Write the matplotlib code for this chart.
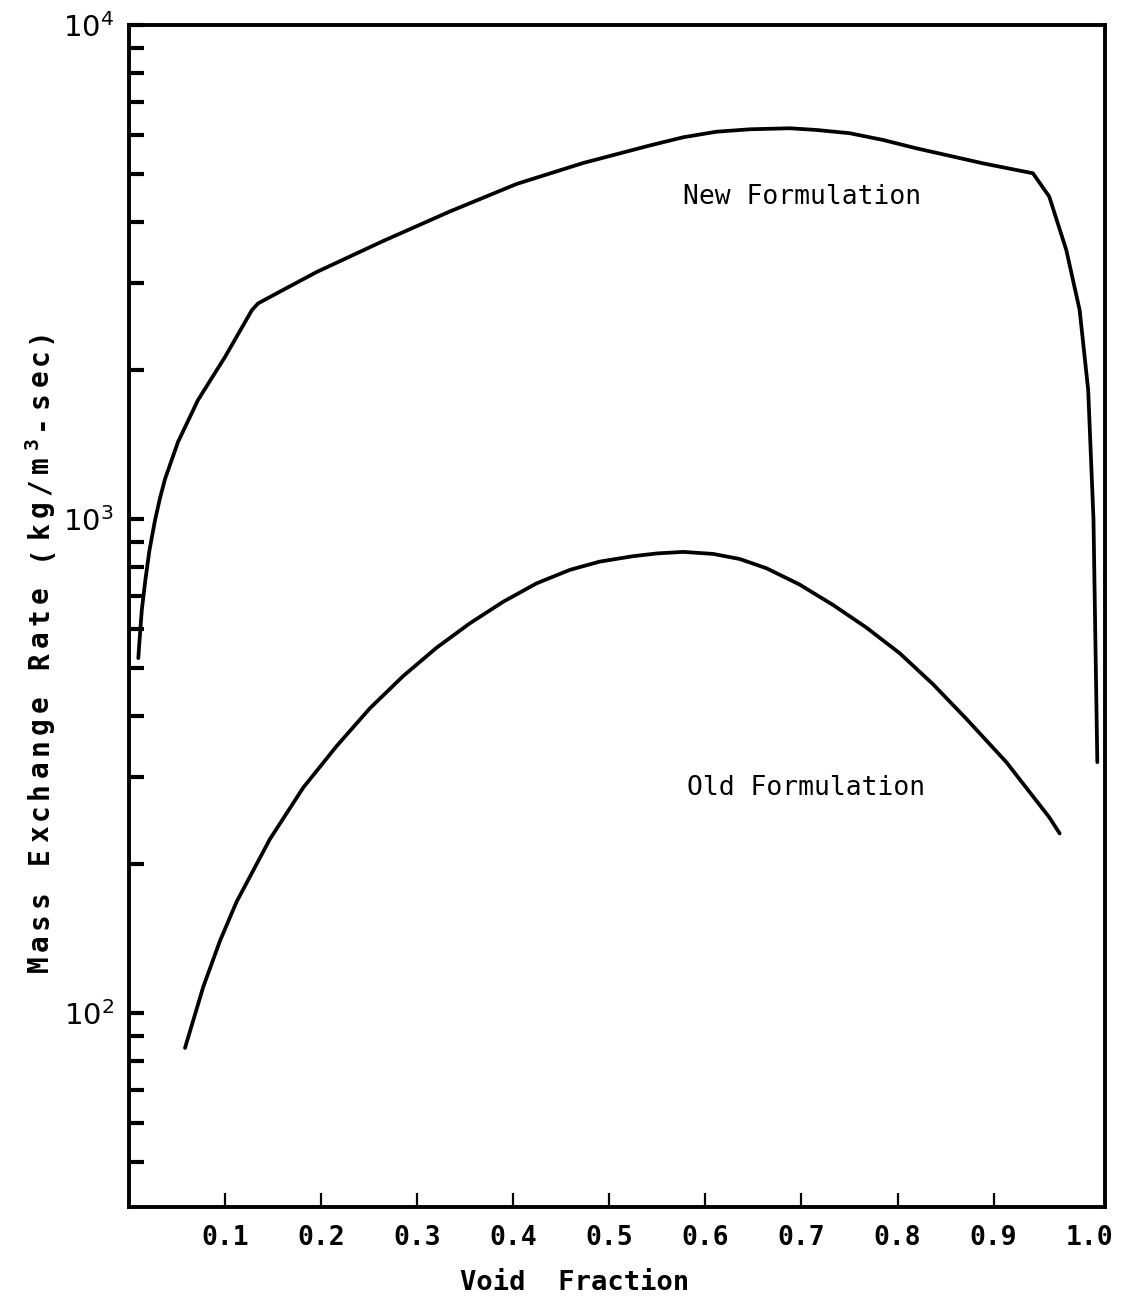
import matplotlib
matplotlib.use("Agg")
import matplotlib.pyplot as plt
from matplotlib.ticker import LogLocator, NullFormatter

# mass exchange rate vs void fraction, two closure formulations
void_new = [0.0097, 0.0110, 0.0133, 0.0170, 0.0213, 0.0271, 0.0323, 0.0375, 0.0510,
            0.0718, 0.0999, 0.1280, 0.1345, 0.1623, 0.1953, 0.2646, 0.334, 0.4034,
            0.4727, 0.5421, 0.5768, 0.6115, 0.6462, 0.6878, 0.7156, 0.7502, 0.7849,
            0.8197, 0.889, 0.941, 0.958, 0.9757, 0.9896, 0.9985, 1.004, 1.008]
rate_new = [523, 569, 654, 752, 865, 995, 1103, 1205, 1432,
            1741, 2128, 2649, 2733, 2922, 3162, 3654, 4193, 4766,
            5256, 5703, 5925, 6081, 6150, 6180, 6131, 6039, 5852,
            5628, 5248, 5010, 4493, 3504, 2649, 1824, 1000, 322]

void_old = [0.0583, 0.0773, 0.0947, 0.112, 0.1467, 0.1814, 0.2161, 0.2508, 0.2854,
            0.3202, 0.3548, 0.3895, 0.4243, 0.4589, 0.490, 0.5248, 0.55, 0.5768,
            0.608, 0.6358, 0.6636, 0.698, 0.7329, 0.7676, 0.8023, 0.837, 0.8717,
            0.9133, 0.958, 0.9688]
rate_old = [85, 113, 140, 168, 225, 286, 347, 414, 481,
            549, 615, 680, 741, 789, 820, 841, 852, 858,
            850, 830, 795, 737, 670, 603, 535, 463, 394,
            322, 249, 231]

x_ticks = [0.1, 0.2, 0.3, 0.4, 0.5, 0.6, 0.7, 0.8, 0.9, 1.0]
x_tick_labels = ["0.1", "0.2", "0.3", "0.4", "0.5", "0.6", "0.7", "0.8", "0.9", "1.0"]
y_ticks = [1e2, 1e3, 1e4]
y_tick_labels = [r"$10^2$", r"$10^3$", r"$10^4$"]

plt.rcParams["mathtext.fontset"] = "dejavusans"
mono = "DejaVu Sans Mono"
W, H = 1137, 1304

fig = plt.figure(figsize=(W / 100, H / 100), dpi=100)
ax = fig.add_axes([129 / W, 1 - 1207 / H, (1105 - 129) / W, (1207 - 25) / H])

for xs, ys in [(void_new, rate_new), (void_old, rate_old)]:
    ax.plot(xs, ys, color="black", lw=2.7,
            solid_capstyle="round", solid_joinstyle="round")

ax.set_yscale("log")
ax.set_xlim(0, 1.016)
ax.set_ylim(40.5, 1e4)

for s in ax.spines.values():
    s.set_linewidth(2.8)

ax.set_xticks(x_ticks, x_tick_labels, fontfamily=mono, fontweight="bold", fontsize=19)
ax.tick_params(axis="x", direction="in", length=10, width=1.6, pad=13, top=False)
ax.xaxis.get_major_ticks()[-1].tick1line.set_visible(False)

ax.set_yticks(y_ticks, y_tick_labels, fontsize=21)
ax.yaxis.set_minor_locator(LogLocator(base=10, subs=range(2, 10)))
ax.yaxis.set_minor_formatter(NullFormatter())
ax.tick_params(axis="y", which="both", direction="in", length=10.5, width=3,
               pad=11, right=False)

ax.text(0.5765, 4485, "New Formulation", fontfamily=mono, fontsize=19,
        ha="left", va="center")
ax.text(0.5806, 285, "Old Formulation", fontfamily=mono, fontsize=19,
        ha="left", va="center")

fig.text(575 / W, 1 - 1283 / H, "Void  Fraction", fontfamily=mono,
         fontweight="bold", fontsize=19.5, ha="center", va="center")

# letter-spaced vertical axis title, one glyph at a time
title = "Mass Exchange Rate (kg/m3-sec)"
step = 21.7
for i, ch in enumerate(title):
    ypx = 964 - i * step
    xpx = 48
    size = 20
    if ch == "3":
        xpx -= 10
        size = 14
    fig.text(xpx / W, 1 - ypx / H, ch, fontfamily=mono, fontweight="bold",
             fontsize=size, rotation=90, rotation_mode="anchor",
             ha="center", va="baseline")

fig.savefig("out.png", dpi=100, facecolor="white")
